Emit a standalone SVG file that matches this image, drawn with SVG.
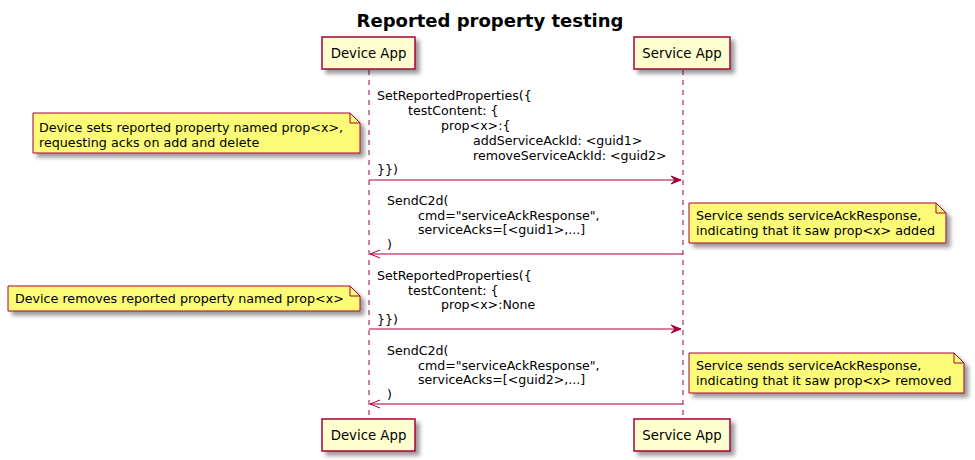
<svg xmlns="http://www.w3.org/2000/svg" width="975" height="460" viewBox="0 0 975 460">
<defs>
<filter id="sh" x="-10%" y="-10%" width="130%" height="150%">
<feGaussianBlur in="SourceAlpha" stdDeviation="2"/>
<feOffset dx="4" dy="4" result="b"/>
<feComponentTransfer><feFuncA type="linear" slope="0.4"/></feComponentTransfer>
<feMerge><feMergeNode/><feMergeNode in="SourceGraphic"/></feMerge>
</filter>
</defs>
<style>
text{font-family:"DejaVu Sans",Verdana,sans-serif;fill:#000}
.t{font-size:18px;font-weight:bold}
.p{font-size:13.3px}
.m{font-size:12.6px}
.n{font-size:12.7px}
.box{fill:#FEFECE;stroke:#A80036;stroke-width:1.5}
.note{fill:#FBFB77;stroke:#A80036;stroke-width:1}
.fold{fill:none;stroke:#A80036;stroke-width:1}
.life{stroke:#A80036;stroke-width:1;stroke-dasharray:5,5}
.arr{stroke:#A80036;stroke-width:1;fill:none}
.head{fill:#A80036;stroke:#A80036;stroke-width:1}
</style>
<rect width="975" height="460" fill="#fff"/>
<text class="t" x="490" y="27" text-anchor="middle">Reported property testing</text>

<g id="lifelines">
<line class="life" x1="369" y1="70" x2="369" y2="419"/>
<line class="life" x1="683" y1="70" x2="683" y2="419"/>
</g>

<g id="device-top">
<rect class="box" x="322" y="37" width="93" height="32" filter="url(#sh)"/>
<text class="p" x="368.5" y="58" text-anchor="middle">Device App</text>
</g>
<g id="service-top">
<rect class="box" x="634" y="37" width="96" height="32" filter="url(#sh)"/>
<text class="p" x="682" y="58" text-anchor="middle">Service App</text>
</g>
<g id="device-bottom">
<rect class="box" x="322" y="419" width="93" height="32" filter="url(#sh)"/>
<text class="p" x="368.5" y="440" text-anchor="middle">Device App</text>
</g>
<g id="service-bottom">
<rect class="box" x="634" y="419" width="96" height="32" filter="url(#sh)"/>
<text class="p" x="682" y="440" text-anchor="middle">Service App</text>
</g>

<g id="connectors">
<line class="arr" x1="369" y1="180" x2="681" y2="180"/>
<polygon class="head" points="671,176 681,180 671,184 675,180"/>
<line class="arr" x1="370" y1="254" x2="683" y2="254"/>
<polyline class="arr" points="380,250 370,254 380,258"/>
<line class="arr" x1="369" y1="329" x2="681" y2="329"/>
<polygon class="head" points="671,325 681,329 671,333 675,329"/>
<line class="arr" x1="370" y1="404" x2="683" y2="404"/>
<polyline class="arr" points="380,400 370,404 380,408"/>
</g>

<g id="msg1">
<text class="m" x="377" y="99.5">SetReportedProperties({</text>
<text class="m" x="408" y="114.5">testContent: {</text>
<text class="m" x="441" y="129.5">prop&lt;x&gt;:{</text>
<text class="m" x="473" y="144.5">addServiceAckId: &lt;guid1&gt;</text>
<text class="m" x="473" y="159.5">removeServiceAckId: &lt;guid2&gt;</text>
<text class="m" x="377" y="174">}})</text>
</g>
<g id="msg2">
<text class="m" x="387" y="204.5">SendC2d(</text>
<text class="m" x="418" y="219.5">cmd="serviceAckResponse",</text>
<text class="m" x="418" y="234">serviceAcks=[&lt;guid1&gt;,...]</text>
<text class="m" x="387" y="249">)</text>
</g>
<g id="msg3">
<text class="m" x="377" y="279.5">SetReportedProperties({</text>
<text class="m" x="408" y="294.5">testContent: {</text>
<text class="m" x="441" y="309">prop&lt;x&gt;:None</text>
<text class="m" x="377" y="324">}})</text>
</g>
<g id="msg4">
<text class="m" x="387" y="354.5">SendC2d(</text>
<text class="m" x="418" y="369.5">cmd="serviceAckResponse",</text>
<text class="m" x="418" y="384">serviceAcks=[&lt;guid2&gt;,...]</text>
<text class="m" x="387" y="399">)</text>
</g>

<g id="note1">
<path class="note" d="M33,113 L33,153 L360,153 L360,123 L350,113 Z" filter="url(#sh)"/>
<path class="fold" d="M350,113 L350,123 L360,123"/>
<text class="n" x="39" y="131.5">Device sets reported property named prop&lt;x&gt;,</text>
<text class="n" x="39" y="146.5">requesting acks on add and delete</text>
</g>
<g id="note2">
<path class="note" d="M689,203 L689,243 L946,243 L946,213 L936,203 Z" filter="url(#sh)"/>
<path class="fold" d="M936,203 L936,213 L946,213"/>
<text class="n" x="696" y="220">Service sends serviceAckResponse,</text>
<text class="n" x="696" y="235">indicating that it saw prop&lt;x&gt; added</text>
</g>
<g id="note3">
<path class="note" d="M8,286 L8,311 L360,311 L360,296 L350,286 Z" filter="url(#sh)"/>
<path class="fold" d="M350,286 L350,296 L360,296"/>
<text class="n" x="15" y="302.5">Device removes reported property named prop&lt;x&gt;</text>
</g>
<g id="note4">
<path class="note" d="M689,353 L689,393 L964,393 L964,363 L954,353 Z" filter="url(#sh)"/>
<path class="fold" d="M954,353 L954,363 L964,363"/>
<text class="n" x="696" y="370">Service sends serviceAckResponse,</text>
<text class="n" x="696" y="385">indicating that it saw prop&lt;x&gt; removed</text>
</g>
</svg>
